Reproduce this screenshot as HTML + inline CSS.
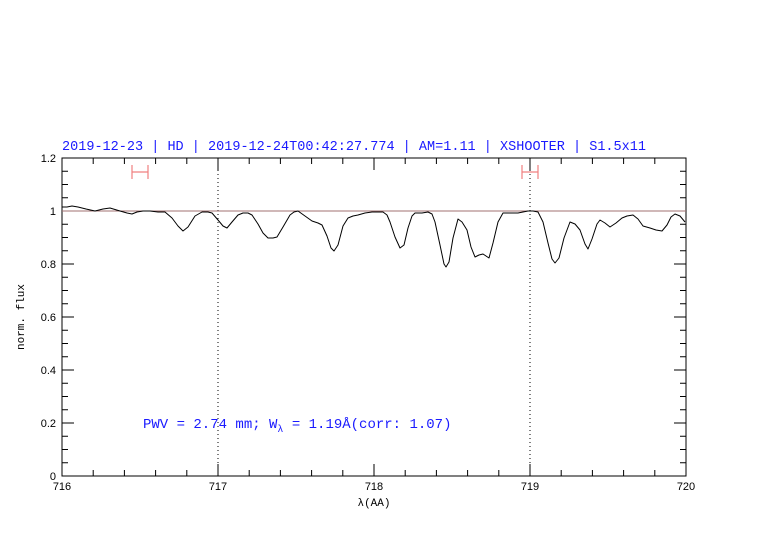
<!DOCTYPE html>
<html><head><meta charset="utf-8"><style>body{margin:0;background:#fff}</style></head><body>
<svg width="782" height="542" xmlns="http://www.w3.org/2000/svg" font-family="Liberation Mono, DejaVu Sans Mono, monospace">
<rect width="782" height="542" fill="#fff"/>
<text x="62" y="150" fill="#1a1aff" font-size="14" textLength="584" lengthAdjust="spacingAndGlyphs">2019-12-23 | HD | 2019-12-24T00:42:27.774 | AM=1.11 | XSHOOTER | S1.5x11</text>
<g stroke="#000" stroke-width="1" fill="none">
<rect x="62" y="158" width="624" height="318"/>
<path d="
M93.2,476v-6M124.4,476v-6M155.6,476v-6M186.8,476v-6M249.2,476v-6M280.4,476v-6M311.6,476v-6M342.8,476v-6M405.2,476v-6M436.4,476v-6M467.6,476v-6M498.8,476v-6M561.2,476v-6M592.4,476v-6M623.6,476v-6M654.8,476v-6
M218,476v-12M374,476v-12M530,476v-12
M93.2,158v6M124.4,158v6M155.6,158v6M186.8,158v6M249.2,158v6M280.4,158v6M311.6,158v6M342.8,158v6M405.2,158v6M436.4,158v6M467.6,158v6M498.8,158v6M561.2,158v6M592.4,158v6M623.6,158v6M654.8,158v6
M218,158v12M374,158v12M530,158v12
M62,423h12M62,370h12M62,317h12M62,264h12M62,211h12
M686,423h-12M686,370h-12M686,317h-12M686,264h-12M686,211h-12
M62,462.75h6M62,449.5h6M62,436.25h6M62,409.75h6M62,396.5h6M62,383.25h6M62,356.75h6M62,343.5h6M62,330.25h6M62,303.75h6M62,290.5h6M62,277.25h6M62,250.75h6M62,237.5h6M62,224.25h6M62,197.75h6M62,184.5h6M62,171.25h6
M686,462.75h-6M686,449.5h-6M686,436.25h-6M686,409.75h-6M686,396.5h-6M686,383.25h-6M686,356.75h-6M686,343.5h-6M686,330.25h-6M686,303.75h-6M686,290.5h-6M686,277.25h-6M686,250.75h-6M686,237.5h-6M686,224.25h-6M686,197.75h-6M686,184.5h-6M686,171.25h-6"/>
</g>
<g stroke="#000" stroke-dasharray="1,3" stroke-width="1">
<line x1="218" y1="158" x2="218" y2="476"/>
<line x1="530" y1="158" x2="530" y2="476"/>
</g>
<line x1="62" y1="211" x2="686" y2="211" stroke="#a07070" stroke-width="1"/>
<g stroke="#f08080" stroke-width="1.2" fill="none">
<path d="M132,172h16M132,165v14M148,165v14"/>
<path d="M522,172h16M522,165v14M538,165v14"/>
</g>
<polyline fill="none" stroke="#000" stroke-width="1" stroke-linejoin="round" points="62,207 67,207 72,206 78,207 86,209 95,211 103,209 110,208 120,211 127,213 132,214 137,212 143,211 150,211 158,212 165,212 172,218 178,226 183,231 188,227 195,216 202,212 208,212 212,213 218,220 223,226 227,228 232,222 238,215 243,213 248,213 252,215 258,224 263,233 268,238 273,238 277,237 283,227 290,215 294,212 298,211 305,216 312,221 318,223 322,225 327,236 331,248 334,251 338,245 343,226 348,218 353,216 358,215 365,213 372,212 378,212 383,212 387,215 390,222 395,237 400,248 404,245 408,228 412,216 415,213 422,213 428,212 432,214 435,222 440,245 444,264 446,267 449,262 453,238 458,219 462,222 467,230 471,247 475,257 479,255 483,254 486,256 489,258 493,243 498,222 503,213 510,213 518,213 523,212 528,211 533,211 538,212 543,222 548,243 552,259 555,263 559,258 564,238 570,222 575,224 580,230 585,244 588,249 592,239 597,224 600,220 605,223 610,227 616,223 622,218 627,216 633,215 638,219 643,226 650,228 656,230 662,231 667,225 671,217 675,214 680,216 685,222"/>
<g font-size="11" fill="#000" text-anchor="middle" font-family="Liberation Sans, sans-serif">
<text x="62" y="490">716</text><text x="218" y="490">717</text><text x="374" y="490">718</text><text x="530" y="490">719</text><text x="686" y="490">720</text>
</g>
<g font-size="11" fill="#000" text-anchor="end" font-family="Liberation Sans, sans-serif">
<text x="56" y="480">0</text><text x="56" y="427">0.2</text><text x="56" y="374">0.4</text><text x="56" y="321">0.6</text><text x="56" y="268">0.8</text><text x="56" y="215">1</text><text x="56" y="162">1.2</text>
</g>
<text x="374" y="506" font-size="11" text-anchor="middle">λ(AA)</text>
<text transform="translate(24,317) rotate(-90)" font-size="11" text-anchor="middle">norm. flux</text>
<text x="143" y="428" font-size="14" fill="#1a1aff">PWV = 2.74 mm; W<tspan font-size="10" dy="4">λ</tspan><tspan dy="-4"> = 1.19Å(corr: 1.07)</tspan></text>
</svg>
</body></html>
